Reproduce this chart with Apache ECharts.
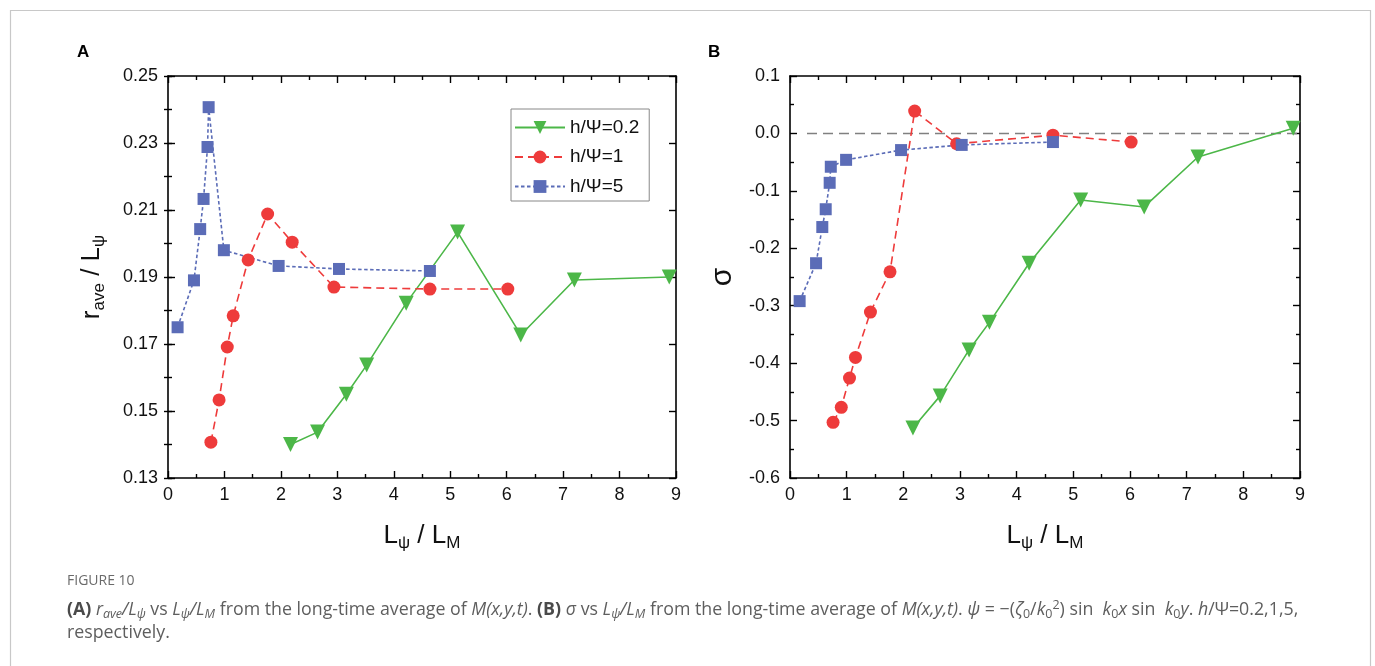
<!DOCTYPE html>
<html>
<head>
<meta charset="utf-8">
<script src="https://cdn.jsdelivr.net/npm/echarts@6/dist/echarts.min.js"></script>
<style>
  html, body { margin: 0; padding: 0; background: #fff; }
  #chart { width: 1375px; height: 666px; }
</style>
</head>
<body>
<div id="chart"></div>
<script>
// L_psi / L_M positions of the runs for each h/Psi value
const xH02 = [2.17, 2.65, 3.16, 3.52, 4.22, 5.13, 6.25, 7.20, 8.88];
const xH1  = [0.76, 0.905, 1.05, 1.155, 1.42, 1.765, 2.20, 2.94, 4.64, 6.02];
const xH5  = [0.17, 0.46, 0.57, 0.63, 0.70, 0.72, 0.99, 1.96, 3.03, 4.64];

// (A) r_ave / L_psi
const rH02 = [0.1400, 0.1437, 0.1550, 0.1637, 0.1822, 0.2034, 0.1727, 0.1891, 0.1900];
const rH1  = [0.1407, 0.1533, 0.1691, 0.1784, 0.1951, 0.2088, 0.2004, 0.1870, 0.1864, 0.1864];
const rH5  = [0.1750, 0.1890, 0.2043, 0.2133, 0.2288, 0.2407, 0.1980, 0.1933, 0.1924, 0.1918];

// (B) sigma
const sH02 = [-0.513, -0.457, -0.377, -0.329, -0.226, -0.116, -0.128, -0.041, 0.009];
const sH1  = [-0.503, -0.477, -0.426, -0.390, -0.311, -0.241, 0.039, -0.018, -0.003, -0.015];
const sH5  = [-0.292, -0.226, -0.163, -0.132, -0.086, -0.058, -0.046, -0.029, -0.020, -0.015];

// sigma = 0 reference
const zeroLine = [[0.3, 0], [9, 0]];

// tick labels
const yTicksA = [0.13, 0.15, 0.17, 0.19, 0.21, 0.23, 0.25];
const seriesNames = ['h/\u03A8=0.2', 'h/\u03A8=1', 'h/\u03A8=5'];

const pairs = (xs, ys) => xs.map((x, i) => [x, ys[i]]);

const FONT = 'Liberation Sans, Arial, sans-serif';
const CAP_FONT = '"Open Sans", sans-serif';
const CAP_SIZE = 17.8;
const GREEN = '#4cb748';
const RED = '#ee3b3b';
const BLUE = '#5b6cb7';
const CAP = '#5e5e5e';

const axisLineStyle = { color: '#000', width: 1.6 };
const tickStyle = { color: '#000', width: 1.4 };

function xAxes(grid) {
  const base = {
    gridIndex: grid, type: 'value', min: 0, max: 9, interval: 1,
    axisLine: { show: true, onZero: false, lineStyle: axisLineStyle },
    axisTick: { show: true, inside: true, length: 7, lineStyle: tickStyle },
    minorTick: { show: true, splitNumber: 2, length: 4, lineStyle: tickStyle },
    splitLine: { show: false }
  };
  return [
    Object.assign({}, base, {
      position: 'bottom',
      axisLabel: { margin: 8, fontSize: 18, fontFamily: FONT, color: '#111' },
      name: '{m|L}{s|\u03C8}{m| / L}{s|M}',
      nameLocation: 'middle', nameGap: 42,
      nameTextStyle: {
        fontSize: 26, fontFamily: FONT, color: '#111', lineHeight: 32,
        rich: {
          m: { fontSize: 26, fontFamily: FONT, color: '#111', lineHeight: 32 },
          s: { fontSize: 17, fontFamily: FONT, color: '#111', lineHeight: 20, verticalAlign: 'bottom' }
        }
      }
    }),
    Object.assign({}, base, { position: 'top', axisLabel: { show: false } })
  ];
}

const capRich = {
  b: { fontWeight: 'bold', fontSize: CAP_SIZE, fontFamily: 'Open Sans', fill: '#4a4a4a', lineHeight: 22 },
  i: { fontStyle: 'italic', fontSize: CAP_SIZE, fontFamily: 'Open Sans', fill: CAP, lineHeight: 22 },
  s: { fontStyle: 'italic', fontSize: 12.5, fontFamily: 'Open Sans', fill: CAP, lineHeight: 14, verticalAlign: 'bottom' },
  n: { fontSize: 12.5, fontFamily: 'Open Sans', fill: CAP, lineHeight: 14, verticalAlign: 'bottom' },
  p: { fontSize: 12.5, fontFamily: 'Open Sans', fill: CAP, lineHeight: 14, verticalAlign: 'top' }
};

const option = {
  animation: false,
  backgroundColor: '#fff',
  grid: [
    { left: 168, top: 76, width: 508, height: 402 },
    { left: 790, top: 76, width: 510, height: 402 }
  ],
  xAxis: [].concat(xAxes(0), xAxes(1)),
  yAxis: [
    // (A) left: labels and long ticks
    {
      gridIndex: 0, type: 'value', position: 'left', min: 0.13, max: 0.25, interval: 0.01,
      axisLine: { show: true, onZero: false, lineStyle: axisLineStyle },
      axisTick: { show: true, inside: true, length: 7, customValues: yTicksA, lineStyle: tickStyle },
      axisLabel: {
        customValues: yTicksA, margin: 10, fontSize: 18, fontFamily: FONT, color: '#111',
        formatter: v => v.toFixed(2)
      },
      splitLine: { show: false },
      name: '{m|r}{s|ave}{m| / L}{s|\u03C8}',
      nameLocation: 'middle', nameGap: 60,
      nameTextStyle: {
        fontSize: 26, fontFamily: FONT, color: '#111', lineHeight: 32,
        rich: {
          m: { fontSize: 26, fontFamily: FONT, color: '#111', lineHeight: 32 },
          s: { fontSize: 17, fontFamily: FONT, color: '#111', lineHeight: 20, verticalAlign: 'bottom' }
        }
      }
    },
    // (A) left: short ticks every 0.01
    {
      gridIndex: 0, type: 'value', position: 'left', min: 0.13, max: 0.25, interval: 0.01,
      axisLine: { show: false },
      axisTick: { show: true, inside: true, length: 4, lineStyle: tickStyle },
      axisLabel: { show: false }, splitLine: { show: false }
    },
    // (A) right
    {
      gridIndex: 0, type: 'value', position: 'right', min: 0.13, max: 0.25, interval: 0.01,
      axisLine: { show: true, onZero: false, lineStyle: axisLineStyle },
      axisTick: { show: true, inside: true, length: 7, customValues: yTicksA, lineStyle: tickStyle },
      axisLabel: { show: false }, splitLine: { show: false }
    },
    {
      gridIndex: 0, type: 'value', position: 'right', min: 0.13, max: 0.25, interval: 0.01,
      axisLine: { show: false },
      axisTick: { show: true, inside: true, length: 4, lineStyle: tickStyle },
      axisLabel: { show: false }, splitLine: { show: false }
    },
    // (B) left
    {
      gridIndex: 1, type: 'value', position: 'left', min: -0.6, max: 0.1, interval: 0.1,
      axisLine: { show: true, onZero: false, lineStyle: axisLineStyle },
      axisTick: { show: true, inside: true, length: 7, lineStyle: tickStyle },
      minorTick: { show: true, splitNumber: 2, length: 4, lineStyle: tickStyle },
      axisLabel: { margin: 10, fontSize: 18, fontFamily: FONT, color: '#111', formatter: v => v.toFixed(1) },
      splitLine: { show: false },
      name: '\u03C3', nameLocation: 'middle', nameGap: 52,
      nameTextStyle: { fontSize: 30, fontFamily: FONT, color: '#111' }
    },
    // (B) right
    {
      gridIndex: 1, type: 'value', position: 'right', min: -0.6, max: 0.1, interval: 0.1,
      axisLine: { show: true, onZero: false, lineStyle: axisLineStyle },
      axisTick: { show: true, inside: true, length: 7, lineStyle: tickStyle },
      minorTick: { show: true, splitNumber: 2, length: 4, lineStyle: tickStyle },
      axisLabel: { show: false }, splitLine: { show: false }
    }
  ],
  legend: {
    data: seriesNames,
    orient: 'vertical', left: 511, top: 109,
    itemWidth: 50, itemHeight: 16, itemGap: 10.5,
    padding: [9, 10, 5, 3],
    borderColor: '#888', borderWidth: 1, backgroundColor: '#fff',
    textStyle: { fontSize: 19, fontFamily: FONT, color: '#111' }
  },
  series: [
    // (A)
    {
      name: seriesNames[0], type: 'line', xAxisIndex: 0, yAxisIndex: 0,
      data: pairs(xH02, rH02), symbol: 'triangle', symbolRotate: 180, symbolSize: 15,
      itemStyle: { color: GREEN }, lineStyle: { color: GREEN, width: 1.6 }
    },
    {
      name: seriesNames[1], type: 'line', xAxisIndex: 0, yAxisIndex: 0,
      data: pairs(xH1, rH1), symbol: 'circle', symbolSize: 13,
      itemStyle: { color: RED }, lineStyle: { color: RED, width: 1.6, type: [8, 5] }
    },
    {
      name: seriesNames[2], type: 'line', xAxisIndex: 0, yAxisIndex: 0,
      data: pairs(xH5, rH5), symbol: 'rect', symbolSize: 12,
      itemStyle: { color: BLUE }, lineStyle: { color: BLUE, width: 1.6, type: [3.5, 2.5] }
    },
    // (B)
    {
      name: 'zero', type: 'line', xAxisIndex: 2, yAxisIndex: 4,
      data: zeroLine, symbol: 'none', silent: true,
      lineStyle: { color: '#808080', width: 1.6, type: [10, 6] }
    },
    {
      name: seriesNames[0], type: 'line', xAxisIndex: 2, yAxisIndex: 4,
      data: pairs(xH02, sH02), symbol: 'triangle', symbolRotate: 180, symbolSize: 15,
      itemStyle: { color: GREEN }, lineStyle: { color: GREEN, width: 1.6 }
    },
    {
      name: seriesNames[1], type: 'line', xAxisIndex: 2, yAxisIndex: 4,
      data: pairs(xH1, sH1), symbol: 'circle', symbolSize: 13,
      itemStyle: { color: RED }, lineStyle: { color: RED, width: 1.6, type: [8, 5] }
    },
    {
      name: seriesNames[2], type: 'line', xAxisIndex: 2, yAxisIndex: 4,
      data: pairs(xH5, sH5), symbol: 'rect', symbolSize: 12,
      itemStyle: { color: BLUE }, lineStyle: { color: BLUE, width: 1.6, type: [3.5, 2.5] }
    }
  ],
  graphic: [
    {
      type: 'rect', left: 8, top: 8, silent: true, z: -10,
      shape: { width: 1360, height: 720 },
      style: { fill: 'none', stroke: '#c8c8c8', lineWidth: 1.2 }
    },
    {
      type: 'text', left: 77, top: 44,
      style: { text: 'A', font: 'bold 17px ' + FONT, fill: '#000' }
    },
    {
      type: 'text', left: 708, top: 44,
      style: { text: 'B', font: 'bold 17px ' + FONT, fill: '#000' }
    },
    {
      type: 'text', left: 67, top: 574,
      style: { text: 'FIGURE 10', font: '14px ' + CAP_FONT, fill: '#6a6a6a' }
    },
    {
      type: 'text', left: 67, top: 599,
      style: {
        text: '{b|(A)} {i|r}{s|ave}{i|/L}{s|\u03C8} vs {i|L}{s|\u03C8}{i|/L}{s|M} from the long-time average of {i|M(x,y,t)}. ' +
              '{b|(B)} {i|\u03C3} vs {i|L}{s|\u03C8}{i|/L}{s|M} from the long-time average of {i|M(x,y,t)}. ' +
              '{i|\u03C8} = \u2212({i|\u03B6}{n|0}/{i|k}{n|0}{p|2}) sin  {i|k}{n|0}{i|x} sin  {i|k}{n|0}{i|y}. {i|h}/\u03A8=0.2,1,5,',
        font: CAP_SIZE + 'px ' + CAP_FONT, fill: CAP, lineHeight: 22,
        rich: capRich
      }
    },
    {
      type: 'text', left: 67, top: 624,
      style: { text: 'respectively.', font: CAP_SIZE + 'px ' + CAP_FONT, fill: CAP }
    }
  ]
};

const chart = echarts.init(document.getElementById('chart'), null, { renderer: 'canvas' });
chart.setOption(option);
</script>
</body>
</html>
